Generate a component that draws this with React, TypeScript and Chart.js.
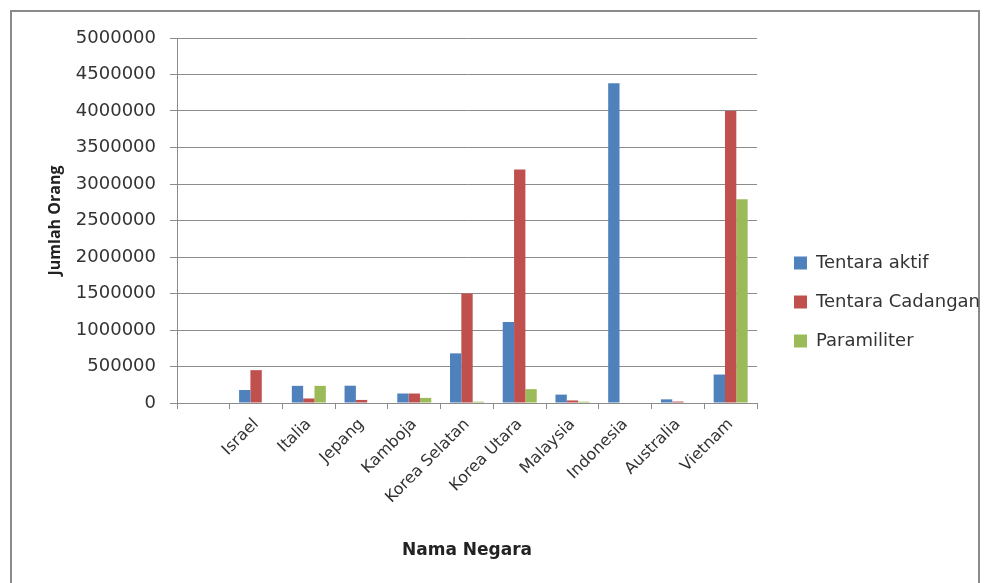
import React, { useEffect, useRef } from "react";
import { Chart, registerables } from "chart.js";

Chart.register(...registerables);

const categories = ["", "Israel", "Italia", "Jepang", "Kamboja", "Korea Selatan", "Korea Utara", "Malaysia", "Indonesia", "Australia", "Vietnam"];
const tentaraAktif = [null, 178000, 235000, 237000, 130000, 680000, 1110000, 115000, 4380000, 50000, 390000];
const tentaraCadangan = [null, 450000, 62000, 42000, 130000, 1500000, 3200000, 35000, 0, 20000, 4000000];
const paramiliter = [null, 0, 235000, 0, 70000, 18000, 190000, 18000, 0, 0, 2790000];
const seriesNames = ["Tentara aktif", "Tentara Cadangan", "Paramiliter"];
const yMax = 5000000;
const yStep = 500000;

const WIDE = "'DejaVu Sans', sans-serif";
const NORMAL = "'Open Sans', sans-serif";

export default function App() {
  const ref = useRef<HTMLCanvasElement | null>(null);
  useEffect(() => {
    if (!ref.current) return;
    const chart = new Chart(ref.current, {
      type: "bar",
      data: {
        labels: categories,
        datasets: [
          { label: seriesNames[0], data: tentaraAktif, backgroundColor: "#4F81BD" },
          { label: seriesNames[1], data: tentaraCadangan, backgroundColor: "#C0504D" },
          { label: seriesNames[2], data: paramiliter, backgroundColor: "#9BBB59" },
        ],
      },
      options: {
        responsive: false,
        animation: false,
        layout: { padding: { top: 38, bottom: 17, left: 0, right: 0 } },
        datasets: { bar: { categoryPercentage: 0.645, barPercentage: 1.0 } } as any,
        plugins: {
          tooltip: { enabled: false },
          legend: {
            position: "right",
            align: "center",
            labels: {
              boxWidth: 13,
              boxHeight: 13,
              padding: 21,
              color: "#333333",
              font: { family: WIDE, size: 18 },
            },
          },
        },
        scales: {
          x: {
            afterFit: (s: any) => { s.height = 163; },
            grid: { drawOnChartArea: false, drawTicks: true, tickLength: 6, color: "#8c8c8c", offset: true },
            border: { display: true, color: "#8c8c8c", width: 1 },
            ticks: {
              maxRotation: 45,
              minRotation: 45,
              autoSkip: false,
              padding: 6,
              color: "#333333",
              font: { family: WIDE, size: 16 },
            },
            title: {
              display: true,
              text: "Nama Negara",
              color: "#222222",
              font: { family: WIDE, size: 17, weight: "bold" },
              padding: { top: 0, bottom: 5 },
            },
          },
          y: {
            min: 0,
            max: yMax,
            afterFit: (s: any) => { s.width = 177; },
            grid: { drawOnChartArea: true, drawTicks: true, tickLength: 7, color: "#8c8c8c" },
            border: { display: true, color: "#8c8c8c", width: 1 },
            ticks: {
              stepSize: yStep,
              padding: 14,
              color: "#333333",
              font: { family: WIDE, size: 18 },
              callback: (v: any) => String(v),
            },
            title: {
              display: true,
              text: "Jumlah Orang",
              color: "#222222",
              font: { family: NORMAL, size: 16, weight: "bold" },
              padding: { top: 46, bottom: 0 },
            },
          },
          yRight: {
            position: "right",
            display: false,
            afterFit: (s: any) => { s.width = 16; },
          },
        },
      },
    });
    return () => chart.destroy();
  }, []);
  return (
    <div style={{ position: "fixed", left: 0, top: 0, width: 990, height: 583, background: "#fff", overflow: "hidden" }}>
      <div style={{ position: "absolute", left: 10, top: 10, width: 970, height: 600, border: "2px solid #8a8a8a", boxSizing: "border-box" }} />
      <canvas ref={ref} width={990} height={583} style={{ position: "absolute", left: 0, top: 0 }} />
    </div>
  );
}
